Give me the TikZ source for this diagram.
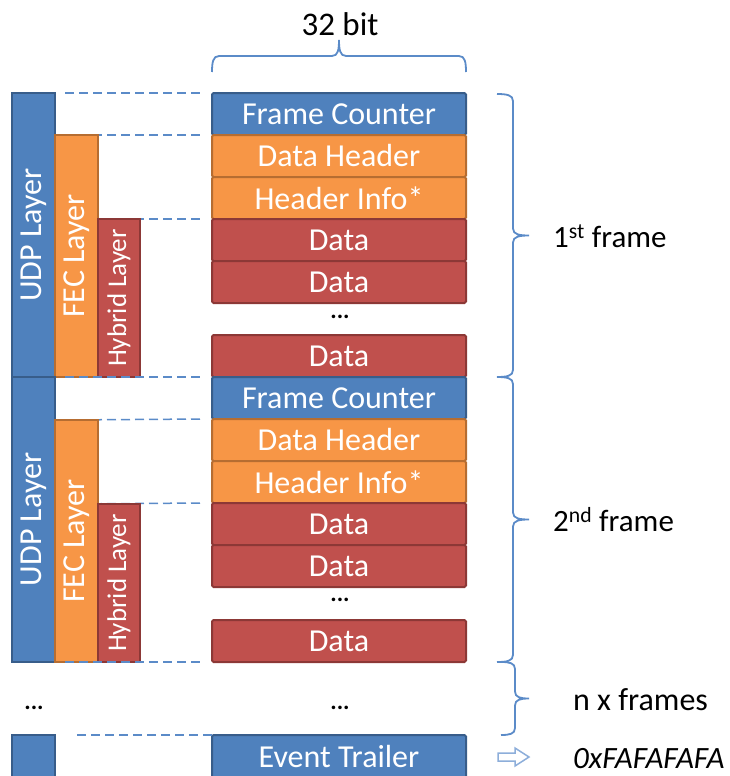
\documentclass[tikz,border=0pt]{standalone}
\usepackage{fontspec}
\setmainfont{Carlito}
\definecolor{bfill}{HTML}{4F81BD}
\definecolor{bdraw}{HTML}{385D8A}
\definecolor{ofill}{HTML}{F79646}
\definecolor{odraw}{HTML}{B66D31}
\definecolor{rfill}{HTML}{C0504D}
\definecolor{rdraw}{HTML}{8C3836}
\definecolor{lineblue}{HTML}{5B8BC8}
\definecolor{arrblue}{HTML}{8DAEDA}
\tikzset{
  blk/.style={draw, line width=2pt, rounded corners=1.5pt, anchor=north west,
    minimum width=254pt, minimum height=42pt, inner sep=0pt, outer sep=0pt,
    text=white, font=\fontsize{32}{36}\selectfont},
  blueblk/.style={blk, fill=bfill, draw=bdraw},
  orangeblk/.style={blk, fill=ofill, draw=odraw},
  redblk/.style={blk, fill=rfill, draw=rdraw},
  bar/.style={draw, line width=2pt, anchor=north west, inner sep=0pt, outer sep=0pt},
  bluebar/.style={bar, fill=bfill, draw=bdraw},
  orangebar/.style={bar, fill=ofill, draw=odraw},
  redbar/.style={bar, fill=rfill, draw=rdraw},
  bartext/.style={rotate=90, text=white, font=\fontsize{32}{36}\selectfont, inner sep=0pt},
  dl/.style={draw=lineblue, line width=1.5pt, dash pattern=on 9pt off 5pt},
  brc/.style={draw=lineblue, line width=1.8pt},
  lbl/.style={anchor=west, font=\fontsize{32}{36}\selectfont, text=black, inner sep=0pt},
  dots/.style={font=\fontsize{24}{28}\selectfont\bfseries, inner sep=0pt,
    text height=4pt, text depth=0pt, anchor=base},
}
% right-pointing brace: x, top y, bottom y, half amplitude
\newcommand\mybracev[4]{%
  \pgfmathsetmacro\bm{(#2+#3)/2}%
  \draw[brc] (#1,#2) .. controls (#1+0.6*#4,#2) and (#1+#4,#2+1) .. (#1+#4,#2+7)
    -- (#1+#4,\bm-7) .. controls (#1+#4,\bm-1) and (#1+1.4*#4,\bm) .. (#1+2*#4,\bm)
    .. controls (#1+1.4*#4,\bm) and (#1+#4,\bm+1) .. (#1+#4,\bm+7)
    -- (#1+#4,#3-7) .. controls (#1+#4,#3-1) and (#1+0.6*#4,#3) .. (#1,#3);}
% upward brace: y, left x, right x, half amplitude
\newcommand\mybraceh[4]{%
  \pgfmathsetmacro\bm{(#2+#3)/2}%
  \draw[brc] (#2,#1) .. controls (#2,#1-0.6*#4) and (#2+1,#1-#4) .. (#2+7,#1-#4)
    -- (\bm-7,#1-#4) .. controls (\bm-1,#1-#4) and (\bm,#1-1.4*#4) .. (\bm,#1-2*#4)
    .. controls (\bm,#1-1.4*#4) and (\bm+1,#1-#4) .. (\bm+7,#1-#4)
    -- (#3-7,#1-#4) .. controls (#3-1,#1-#4) and (#3,#1-0.6*#4) .. (#3,#1);}
\begin{document}
\begin{tikzpicture}[x=1pt,y=-1pt]
\useasboundingbox (0,0) rectangle (729,776);

% helper coordinates for dashed connectors
\coordinate (s1) at (65,93);
\coordinate (s2) at (65,135);
\coordinate (s3) at (65,219);
\coordinate (s4) at (65,377);
\coordinate (s5) at (65,420);
\coordinate (s6) at (65,504);
\coordinate (s7) at (65,662);
\coordinate (s8) at (77,735);

% blocks frame 1
\node[blueblk]   (fc1) at (212,93)  {Frame Counter};
\node[orangeblk] (dh1) at (212,135) {Data Header};
\node[orangeblk] (hi1) at (212,177) {Header Info*};
\node[redblk]    (da1) at (212,219) {Data};
\node[redblk]    (db1) at (212,261) {Data};
\node[redblk]    (dc1) at (212,335) {Data};
% blocks frame 2
\node[blueblk]   (fc2) at (212,377) {Frame Counter};
\node[orangeblk] (dh2) at (212,419) {Data Header};
\node[orangeblk] (hi2) at (212,461) {Header Info*};
\node[redblk]    (da2) at (212,503) {Data};
\node[redblk]    (db2) at (212,545) {Data};
\node[redblk]    (dc2) at (212,620) {Data};
% event trailer
\node[blueblk, minimum height=52pt] (et) at (212,735) {\raisebox{9pt}{Event Trailer}};

% dashed connectors (behind bars)
\draw[dl] (s1) -- ([xshift=-8pt]fc1.north west);
\draw[dl] (s2) -- ([xshift=-8pt]dh1.north west);
\draw[dl] (s3) -- ([xshift=-8pt]da1.north west);
\draw[dl] (s5) -- ([xshift=-8pt]dh2.north west);
\draw[dl] (s6) -- ([xshift=-8pt]da2.north west);
\draw[dl] (s8) -- (et.north west);

% layer bars frame 1
\node[bluebar, minimum width=43pt, minimum height=284pt] (udp1) at (12,93) {};
\node[orangebar, minimum width=43pt, minimum height=242pt] (fec1) at (55,135) {};
\node[redbar, minimum width=42pt, minimum height=158pt] (hyb1) at (98,219) {};
% layer bars frame 2
\node[bluebar, minimum width=43pt, minimum height=285pt] (udp2) at (12,377) {};
\node[orangebar, minimum width=43pt, minimum height=242pt] (fec2) at (55,420) {};
\node[redbar, minimum width=42pt, minimum height=158pt] (hyb2) at (98,504) {};
% trailer bar
\node[bluebar, minimum width=43pt, minimum height=52pt] (udp3) at (12,735) {};

\node[bartext] at (udp1) {UDP Layer};
\node[bartext] at (fec1) {FEC Layer};
\node[bartext, font=\fontsize{27}{30}\selectfont] at (hyb1) {Hybrid Layer};
\node[bartext] at (udp2) {UDP Layer};
\node[bartext] at (fec2) {FEC Layer};
\node[bartext, font=\fontsize{27}{30}\selectfont] at (hyb2) {Hybrid Layer};

% dashed connectors at frame boundaries (on top)
\draw[dl] (s4) -- ([xshift=-8pt]fc2.north west);
\draw[dl] (s7) -- ([xshift=-8pt]dc2.south west);

% dots
\node[dots] (e1) at (340,318) {...};
\node[dots] (e2) at (340,601) {...};
\node[dots] (e3) at (340,709) {...};
\node[dots] (e4) at (34,709) {...};

% 32 bit brace
\mybraceh{72}{212}{466}{16}
\node[font=\fontsize{33}{38}\selectfont] (bit) at (340,24) {32 bit};

% right braces
\mybracev{497}{94}{377}{16}
\mybracev{497}{377}{662}{16}
\mybracev{501}{662}{735}{14}

\node[lbl, font=\fontsize{31}{36}\selectfont] (f1) at (553,236) {1\textsuperscript{st} frame};
\node[lbl, font=\fontsize{31}{36}\selectfont] (f2) at (553,520) {2\textsuperscript{nd} frame};
\node[lbl] (fn) at (573,700) {n x frames};
\node[lbl, font=\fontsize{31}{36}\selectfont\itshape] (hex) at (573,759) {0xFAFAFAFA};

% hollow arrow
\draw[draw=arrblue, fill=white, line width=1.5pt, line join=miter]
  (498,753) -- (515,753) -- (515,748) -- (529,757) -- (515,766) -- (515,761)
  -- (498,761) -- cycle;
\end{tikzpicture}
\end{document}
